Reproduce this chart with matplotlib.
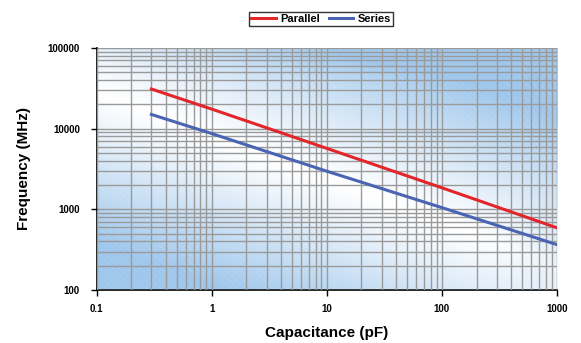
import numpy as np
import matplotlib.pyplot as plt
from matplotlib.colors import LinearSegmentedColormap
from matplotlib.ticker import LogLocator, NullFormatter, FixedLocator

# data
cap_pf = [0.3, 1, 10, 100, 1000]
parallel_mhz = [31000, 17500, 5700, 1850, 590]
series_mhz = [15000, 8700, 2970, 1050, 365]

x_ticks = [0.1, 1, 10, 100, 1000]
x_labels = ['0.1', '1', '10', '100', '1000']
y_ticks = [100, 1000, 10000, 100000]
y_labels = ['100', '1000', '10000', '100000']

plt.rcParams['font.family'] = ['Liberation Sans', 'DejaVu Sans']

fig = plt.figure(figsize=(5.81, 3.43), dpi=100)
ax = fig.add_axes([96.5 / 581, 1 - 290 / 343, 460.5 / 581, 242 / 343])

# soft blue background: white diagonal band, blue towards the corners
gx, gy = np.meshgrid(np.linspace(0, 1, 400), np.linspace(0, 1, 250))
s = gy - (0.82 - 0.72 * gx)
field = np.clip(np.abs(s) * 1.6, 0, 1) ** 1.1
field += 0.25 * np.exp(-((gy - 0.97) ** 2) / 0.004) * gx
field += 0.2 * np.exp(-((gx - 1.0) ** 2) / 0.01 - (gy - 0.15) ** 2 / 0.05)
field = np.clip(field, 0, 1)
# faint diagonal streaks
streak = np.sin((gx * 461 + gy * 243) * 0.9) > 0.9
field = field * (1 - 0.12 * streak)
cmap = LinearSegmentedColormap.from_list('bg', ['#ffffff', '#9fc7ec'])
ax.imshow(field, extent=[0, 1, 0, 1], origin='lower', cmap=cmap, vmin=0, vmax=1,
          transform=ax.transAxes, aspect='auto', zorder=0, interpolation='bilinear')

ax.set_xscale('log')
ax.set_yscale('log')
ax.set_xlim(0.1, 1000)
ax.set_ylim(100, 100000)

ax.plot(cap_pf, parallel_mhz, color='#e2262b', lw=2.2, label='Parallel', zorder=3)
ax.plot(cap_pf, series_mhz, color='#4a64b4', lw=2.2, label='Series', zorder=3)

ax.xaxis.set_major_locator(FixedLocator(x_ticks))
ax.yaxis.set_major_locator(FixedLocator(y_ticks))
ax.set_xticklabels(x_labels)
ax.set_yticklabels(y_labels)
ax.xaxis.set_minor_locator(LogLocator(base=10, subs=np.arange(2, 10)))
ax.yaxis.set_minor_locator(LogLocator(base=10, subs=np.arange(2, 10)))
ax.xaxis.set_minor_formatter(NullFormatter())
ax.yaxis.set_minor_formatter(NullFormatter())

ax.grid(True, which='both', color='#9a9a9a', lw=1, zorder=1)
ax.set_axisbelow(False)
for gl in ax.get_xgridlines() + ax.get_ygridlines():
    gl.set_zorder(1)

ax.tick_params(which='major', direction='out', length=4, width=1, color='black',
               labelsize=7)
ax.tick_params(axis='x', which='major', pad=6)
ax.tick_params(axis='y', which='major', pad=8)
ax.tick_params(which='minor', length=0)
for lab in ax.get_xticklabels() + ax.get_yticklabels():
    lab.set_fontweight('bold')

for s_ in ['top', 'right']:
    ax.spines[s_].set_visible(False)
ax.spines['left'].set_linewidth(1.2)
ax.spines['bottom'].set_linewidth(1.2)

ax.set_xlabel('Capacitance (pF)', fontsize=11, fontweight='bold', labelpad=9)
ax.set_ylabel('Frequency (MHz)', fontsize=11, fontweight='bold', labelpad=12)

leg = fig.legend(loc='center', bbox_to_anchor=(321 / 581, 1 - 19 / 343), ncol=2,
                 frameon=True, fancybox=False, fontsize=8, handlelength=2.2,
                 borderpad=0.2, columnspacing=0.8, handletextpad=0.4,
                 borderaxespad=0)
leg.get_frame().set_edgecolor('black')
leg.get_frame().set_linewidth(1)
for t in leg.get_texts():
    t.set_fontweight('bold')

fig.savefig('out.png', dpi=100)
